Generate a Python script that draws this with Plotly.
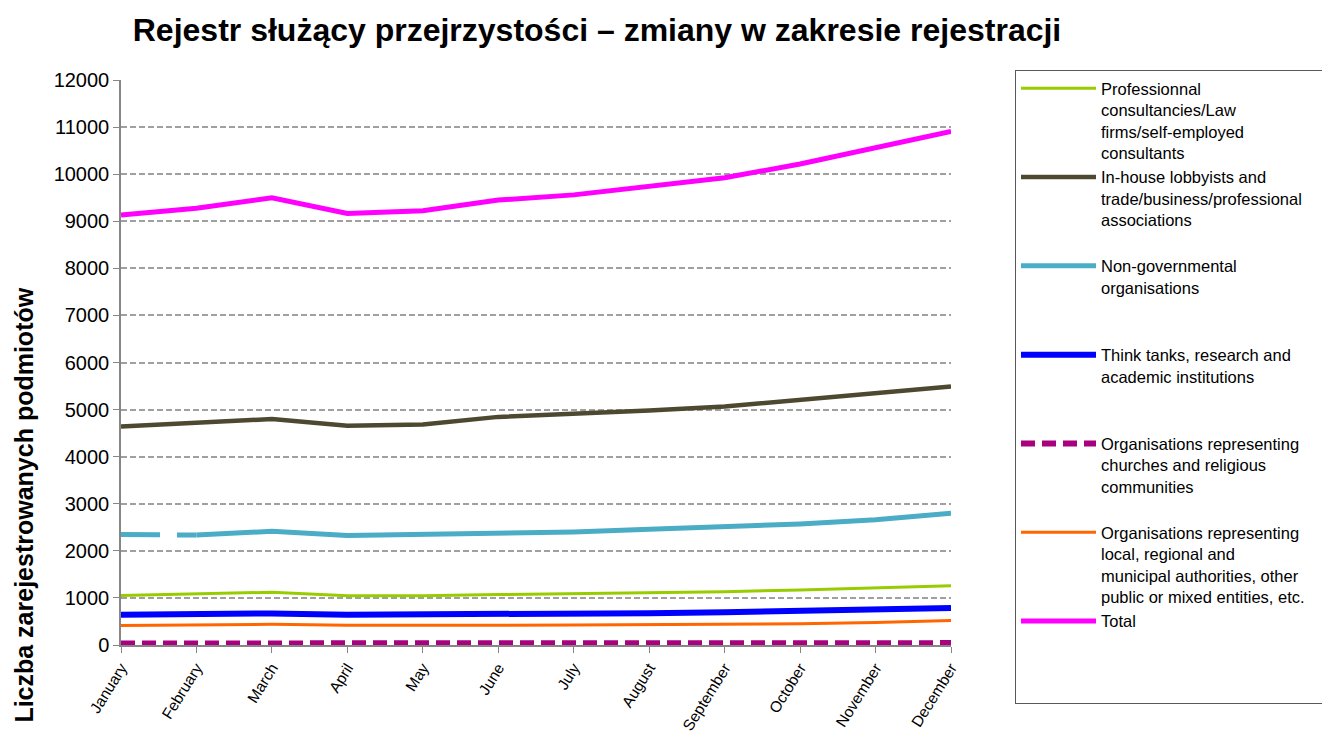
import plotly.graph_objects as go

months = ["January", "February", "March", "April", "May", "June", "July",
          "August", "September", "October", "November", "December"]

professional = [1050, 1080, 1120, 1045, 1045, 1070, 1085, 1100, 1130, 1170, 1215, 1260]
inhouse = [4640, 4720, 4800, 4655, 4685, 4845, 4910, 4980, 5065, 5205, 5365, 5490]
ngo = [2345, 2335, 2415, 2325, 2350, 2375, 2400, 2460, 2505, 2570, 2660, 2800]
think_tanks = [645, 655, 670, 645, 645, 655, 660, 675, 695, 715, 750, 785]
churches = [33, 33, 35, 33, 33, 34, 35, 36, 36, 37, 38, 40]
local = [415, 425, 440, 420, 415, 420, 425, 430, 430, 450, 480, 520]
total = [9135, 9275, 9500, 9165, 9225, 9450, 9560, 9750, 9925, 10215, 10565, 10910]

series_names = [
    "Professionnal<br>consultancies/Law<br>firms/self-employed<br>consultants",
    "In-house lobbyists and<br>trade/business/professional<br>associations",
    "Non-governmental<br>organisations",
    "Think tanks, research and<br>academic institutions",
    "Organisations representing<br>churches and religious<br>communities",
    "Organisations representing<br>local, regional and<br>municipal authorities, other<br>public or mixed entities, etc.",
    "Total",
]

title = "Rejestr służący przejrzystości – zmiany w zakresie rejestracji"
y_title = "Liczba zarejestrowanych podmiotów"


def pad(name, lines=4, last=False):
    n = name.count("<br>") + 1
    extra = ["&nbsp;"] * (lines - n)
    if last and extra:
        # invisible wide line so the legend frame runs past the right edge
        extra[-1] = "&nbsp;" * 70
    return name + "".join("<br>" + e for e in extra)


FONT = "Liberation Sans, Arial, sans-serif"

styles = [
    dict(color="#99CC00", width=3),
    dict(color="#4D4930", width=4.5),
    dict(color="#4BACC6", width=5),
    dict(color="#0000FF", width=6),
    dict(color="#A8007F", width=6, dash="14px,7px"),
    dict(color="#FF6600", width=3),
    dict(color="#FF00FF", width=5),
]

data = [professional, inhouse, ngo, think_tanks, churches, local, total]

fig = go.Figure()
for i, (name, ys, st) in enumerate(zip(series_names, data, styles)):
    label = pad(name, last=(i == len(data) - 1))
    if i == 2:
        # first segment of NGO series drawn with a gap, as in the original
        fig.add_trace(go.Scatter(x=months[:2], y=ys[:2], mode="lines",
                                 line=dict(color=st["color"], width=st["width"],
                                           dash="39px,17px,80px"),
                                 showlegend=False, hoverinfo="skip"))
        fig.add_trace(go.Scatter(x=months[1:], y=ys[1:], mode="lines", name=label,
                                 line=st))
    else:
        fig.add_trace(go.Scatter(x=months, y=ys, mode="lines", name=label, line=st))

# page has an 8px body margin: figure is 1314x727 placed at (8, 8)
W, H = 1314, 727
L, R, T, B = 113, 943, 72, 637.5   # plot area in figure pixels
PW, PH = R - L, B - T

fig.update_layout(
    width=W, height=H,
    margin=dict(l=L, r=W - R, t=T, b=H - B, autoexpand=False),
    paper_bgcolor="white", plot_bgcolor="white",
    font=dict(family=FONT, color="black"),
    title=dict(text=f"<b>{title}</b>", font=dict(size=32, family=FONT),
               x=(589 - L) / PW, xref="paper", xanchor="center",
               y=1 - 22 / H, yref="container", yanchor="middle"),
    showlegend=True,
    legend=dict(x=(1007 - L) / PW, xanchor="left", y=(B - 62) / PH, yanchor="top",
                font=dict(size=16.5, family=FONT),
                bordercolor="#595959", borderwidth=1,
                itemwidth=75, valign="top", tracegroupgap=0,
                maxheight=700, bgcolor="white"),
)

fig.update_xaxes(
    type="category", range=[0, 11], automargin=False,
    showline=True, linecolor="#868686", linewidth=1.5,
    ticks="outside", ticklen=6, tickcolor="#868686",
    tickangle=-58, tickfont=dict(size=15.5, family=FONT),
    showgrid=False, zeroline=False,
)
fig.update_yaxes(
    range=[0, 12000], dtick=1000, tick0=0, tickformat="d", automargin=False,
    showline=True, linecolor="#868686", linewidth=1.5,
    ticks="outside", ticklen=6, tickcolor="#868686",
    tickfont=dict(size=20, family=FONT),
    showgrid=True, gridcolor="#A0A0A0", gridwidth=1.5, griddash="6px,3px",
    zeroline=False,
)

fig.add_annotation(text=f"<b>{y_title}</b>", textangle=-90,
                   xref="paper", x=(0 - L) / PW, xanchor="left",
                   yref="paper", y=(B - 498) / PH, yanchor="middle",
                   showarrow=False, font=dict(size=25, family=FONT))

fig.write_html("out.html")
